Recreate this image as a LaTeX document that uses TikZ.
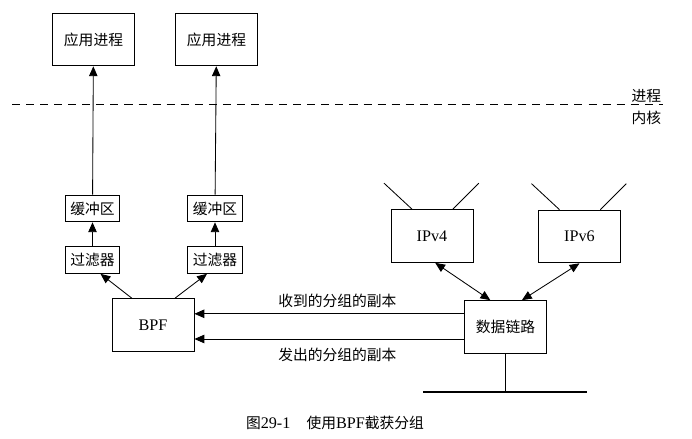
\documentclass[tikz,border=0pt]{standalone}
\usepackage{fontspec}
\setmainfont{Liberation Serif}
\newfontfamily\cjk{Noto Sans CJK SC}
\usetikzlibrary{arrows.meta, positioning, calc}

\begin{document}
\begin{tikzpicture}[x=0.025cm, y=-0.025cm,
        font=\fontsize{10.5}{12}\selectfont,
        line width=0.6pt,
        box/.style={draw, minimum width=2.05cm, minimum height=1.32cm, inner sep=0pt},
        smallbox/.style={draw, minimum width=1.37cm, minimum height=0.67cm, inner sep=0pt},
        latin/.style={font=\fontsize{11.5}{13}\selectfont},
        arr/.style={-{Triangle[length=7pt, width=6pt]}},
        dblarr/.style={{Triangle[length=7pt, width=6pt]}-{Triangle[length=7pt, width=6pt]}}]
    \useasboundingbox (0,0) rectangle (692,439);

    % user side
    \node[box] (app1) at (93.5,39.5) {\cjk 应用进程};
    \node[box] (app2) at (216.5,39.5) {\cjk 应用进程};

    % kernel boundary
    \coordinate (kl) at (12,104);
    \coordinate (kr) at (663,104);
    \draw[dash pattern=on 5.7pt off 4.3pt] (kl) -- (kr);
    \node[anchor=south east, inner sep=1pt] (user) at (kr) {\cjk 进程};
    \node[anchor=north east, inner sep=1pt, yshift=-0.12cm] (kern) at (kr) {\cjk 内核};

    % buffers and filters
    \node[smallbox] (buf1) at (92.5,208.5) {\cjk 缓冲区};
    \node[smallbox] (buf2) at (215,208.5) {\cjk 缓冲区};
    \node[smallbox] (filt1) at (92.5,260) {\cjk 过滤器};
    \node[smallbox] (filt2) at (215,260) {\cjk 过滤器};
    \node[box, latin] (bpf) at (153,325) {BPF};

    % protocols and link layer
    \node[box, latin] (ipv4) at (432,236) {IPv4};
    \node[box, latin] (ipv6) at (579.5,236.5) {IPv6};
    \node[box] (dl) at (505.5,327) {\cjk 数据链路};
    \coordinate (busl) at (423,392);
    \coordinate (busr) at (587,392);

    \draw[arr] (buf1) -- (app1);
    \draw[arr] (buf2) -- (app2);
    \draw[arr] (filt1) -- (buf1);
    \draw[arr] (filt2) -- (buf2);
    \draw[arr] ([xshift=-0.53cm]bpf.north) -- ([xshift=0.2cm]filt1.south);
    \draw[arr] ([xshift=0.55cm]bpf.north) -- ([xshift=-0.2cm]filt2.south);

    \draw[arr] ([yshift=0.33cm]dl.west) -- ([yshift=0.33cm]dl.west -| bpf.east)
        node[pos=0.47, above=1pt] {\cjk 收到的分组的副本};
    \draw[arr] ([yshift=-0.3cm]dl.west) -- ([yshift=-0.3cm]dl.west -| bpf.east)
        node[pos=0.47, below=3pt] {\cjk 发出的分组的副本};

    \draw[dblarr] ([xshift=0.08cm]ipv4.south) -- ([xshift=-0.38cm]dl.north);
    \draw[dblarr] (ipv6.south) -- ([xshift=0.41cm]dl.north);

    % upper protocols
    \foreach \p in {ipv4, ipv6} {
        \draw ([xshift=-0.5cm]\p.north) -- ++(-28,-26);
        \draw ([xshift=0.52cm]\p.north) -- ++(26,-26);
    }

    % network
    \draw (dl.south) -- (dl.south |- busl);
    \draw[line width=2pt] (busl) -- (busr);

    \node[latin] (caption) at (335,423) {{\cjk\fontsize{10.5}{12}\selectfont 图}29-1\quad{\cjk\fontsize{10.5}{12}\selectfont 使用}BPF{\cjk\fontsize{10.5}{12}\selectfont 截获分组}};
\end{tikzpicture}
\end{document}
